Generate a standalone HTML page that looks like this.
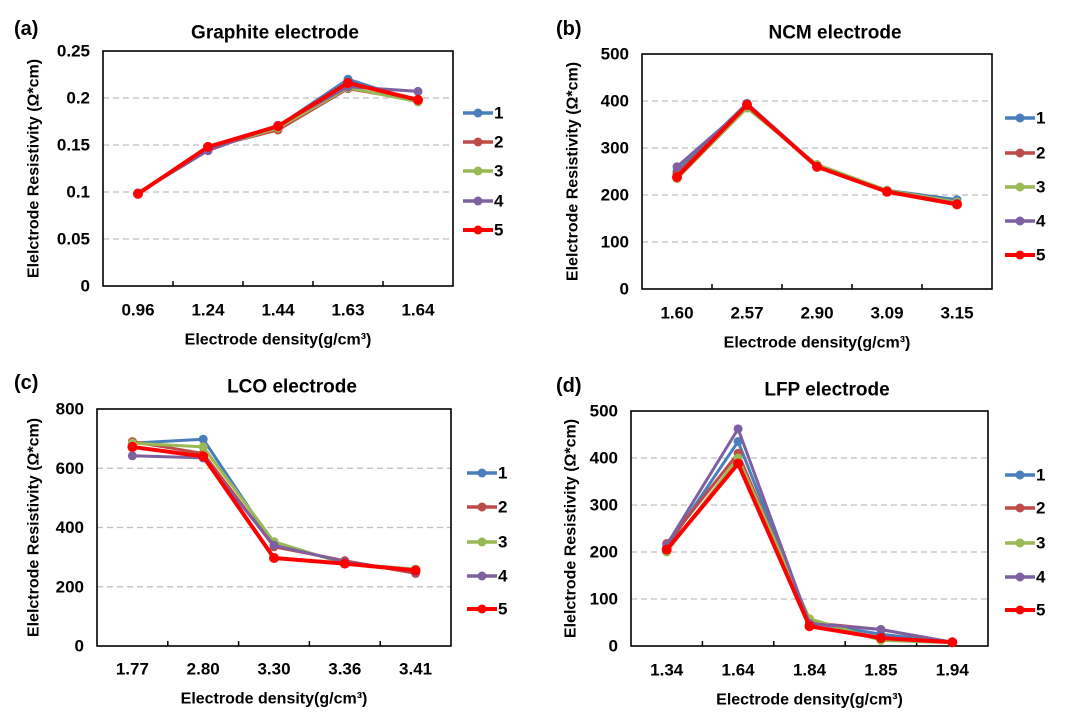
<!DOCTYPE html>
<html><head><meta charset="utf-8"><style>
body{margin:0;background:#fff;}
svg text{font-family:"Liberation Sans",sans-serif;font-weight:bold;fill:#000;}
</style></head><body>
<svg id="c" width="1080" height="721" viewBox="0 0 1080 721"></svg>
<script>
const seriesNames=["1","2","3","4","5"];
const seriesColors=["#4a7ebb","#be4b48","#98b954","#7d60a0","#ff0000"];
const catsA=["0.96","1.24","1.44","1.63","1.64"];
const ticksA=["0","0.05","0.1","0.15","0.2","0.25"];
const valsA=[[0.099,0.145,0.170,0.220,0.196],[0.099,0.147,0.166,0.210,0.197],[0.099,0.146,0.168,0.211,0.196],[0.099,0.144,0.171,0.212,0.207],[0.098,0.148,0.170,0.216,0.198]];
const catsB=["1.60","2.57","2.90","3.09","3.15"];
const ticksB=["0","100","200","300","400","500"];
const valsB=[[250,395,262,210,190],[245,390,262,208,183],[235,385,265,210,185],[260,390,260,208,182],[238,392,260,207,180]];
const catsC=["1.77","2.80","3.30","3.36","3.41"];
const ticksC=["0","200","400","600","800"];
const valsC=[[685,698,340,285,250],[690,650,335,288,245],[685,672,352,278,260],[642,635,340,285,250],[672,640,297,278,255]];
const catsD=["1.34","1.64","1.84","1.85","1.94"];
const ticksD=["0","100","200","300","400","500"];
const valsD=[[210,435,50,25,8],[218,410,50,35,8],[200,400,58,12,7],[215,462,48,35,8],[205,388,42,17,8]];

const NS="http://www.w3.org/2000/svg";
const svg=document.getElementById('c');
function mk(tag,attrs,parent){const e=document.createElementNS(NS,tag);for(const k in attrs)e.setAttribute(k,attrs[k]);(parent||svg).appendChild(e);return e;}
function txt(s,x,y,size,parent,anchor){const t=mk('text',{x:x,y:y,'font-size':size,'text-anchor':anchor||'middle','dominant-baseline':'central'},parent);t.textContent=s;return t;}

function panel(cfg){
  const g=mk('g',{});
  
  
  const L=cfg.x0,R=cfg.x1,T=cfg.y0,B=cfg.y1;
  const ymax=parseFloat(cfg.ticks[cfg.ticks.length-1]);
  const n=cfg.cats.length,cw=(R-L)/n;
  const X=i=>L+cw*(i+0.5);
  const Y=v=>B-(v/ymax)*(B-T);
  cfg.ticks.forEach(t=>{const v=parseFloat(t);const y=Y(v);
    if(v>0&&v<ymax){const gl=mk('line',{x1:L,x2:R,y1:y,y2:y,stroke:'#bdbdbd','stroke-width':1.3,'stroke-dasharray':'6,4'},g);
      }
    const tl=txt(t,L-13,y,17,g,'end');
    
  });
  const box=mk('rect',{x:L,y:T,width:R-L,height:B-T,fill:'none',stroke:'#000','stroke-width':1.6},g);
  
  for(let i=1;i<n;i++){mk('line',{x1:L+cw*i,x2:L+cw*i,y1:B,y2:B-5,stroke:'#000','stroke-width':1.5},g);}
  cfg.cats.forEach((c,i)=>{const t=txt(c,X(i),cfg.tickY,17,g);
    });
  cfg.vals.forEach((s,k)=>{
    const sg=mk('g',{},g);
    
    
    const pts=s.map((v,i)=>X(i)+','+Y(v)).join(' ');
    mk('polyline',{points:pts,fill:'none',stroke:seriesColors[k],'stroke-width':k==4?4:3,'stroke-linejoin':'round'},sg);
    s.forEach((v,i)=>{const p=mk('circle',{cx:X(i),cy:Y(v),r:k==4?5:4.5,fill:seriesColors[k]},sg);
      });
  });
  cfg.legY.forEach((y,k)=>{
    const lg=mk('g',{},g);
    
    
    mk('line',{x1:cfg.legX,x2:cfg.legX+30,y1:y,y2:y,stroke:seriesColors[k],'stroke-width':k==4?4:3.5},lg);
    mk('circle',{cx:cfg.legX+15,cy:y,r:4.5,fill:seriesColors[k]},lg);
    txt(seriesNames[k],cfg.legX+31,y,17,lg,'start');
  });
  const tt=txt(cfg.title,cfg.titleX,cfg.titleY,19,g);
  
  const lb=txt(cfg.label,cfg.labX,cfg.titleY-4,20,g,'start');
  
  const xt=txt('Electrode density(g/cm³)',(L+R)/2,cfg.xTitleY,16,g);
  
  const yc=(T+B)/2;
  const yt=txt('Elelctrode Resistivity (Ω*cm)',0,0,16,g);
  yt.setAttribute('transform','translate('+cfg.yTitleX+','+yc+') rotate(-90)');
  
}
panel({id:'a',x0:103,x1:453,y0:51,y1:286,cats:catsA,ticks:ticksA,vals:valsA,tickY:310,xTitleY:340,legX:463,legY:[113,142,171,201,230],title:'Graphite electrode',titleX:275,titleY:33,label:'(a)',labX:14,yTitleX:34});
panel({id:'b',x0:642,x1:992,y0:54,y1:289,cats:catsB,ticks:ticksB,vals:valsB,tickY:313,xTitleY:343,legX:1005,legY:[118,153,187,221,255],title:'NCM electrode',titleX:835,titleY:33,label:'(b)',labX:556,yTitleX:573});
panel({id:'c',x0:97,x1:451,y0:409,y1:646,cats:catsC,ticks:ticksC,vals:valsC,tickY:669,xTitleY:699,legX:467,legY:[473,507,542,576,609],title:'LCO electrode',titleX:292,titleY:387,label:'(c)',labX:14,yTitleX:34});
panel({id:'d',x0:631,x1:988,y0:411,y1:646,cats:catsD,ticks:ticksD,vals:valsD,tickY:670,xTitleY:700,legX:1005,legY:[475,508,543,577,610],title:'LFP electrode',titleX:827,titleY:390,label:'(d)',labX:556,yTitleX:571});
</script>
</body></html>
